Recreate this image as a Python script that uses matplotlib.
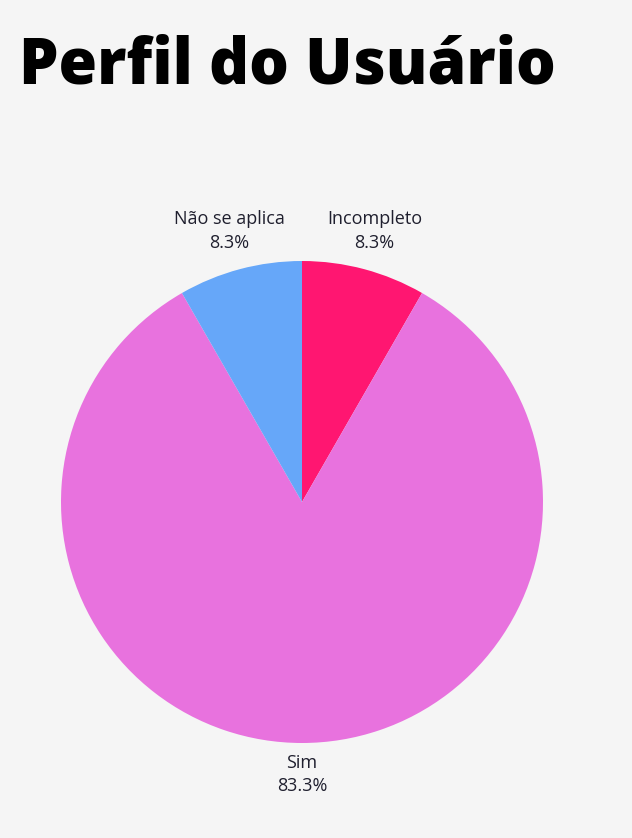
import matplotlib.pyplot as plt
import numpy as np

# chart data
categories = ['Incompleto', 'Sim', 'Não se aplica']
values = [8.3, 83.4, 8.3]
pct_labels = ['8.3%', '83.3%', '8.3%']
colors = ['#FF1671', '#E872DE', '#66A7F9']

fig = plt.figure(figsize=(6.32, 8.38), dpi=100, facecolor='#F5F5F5')

# title
fig.text(19/632, 1 - 83/838, 'Perfil do Usuário', fontsize=45, fontweight=800,
         family=['Open Sans', 'DejaVu Sans'], color='black', ha='left', va='baseline')

# pie axes: centre (302,502), radius 241 px
r = 241
ax = fig.add_axes([(302 - r)/632, 1 - (502 + r)/838, 2*r/632, 2*r/838])
ax.set_facecolor('none')
wedges, _ = ax.pie(values, colors=colors, startangle=90, counterclock=False,
                   radius=1, wedgeprops=dict(linewidth=0))
ax.set_xlim(-1, 1)
ax.set_ylim(-1, 1)
ax.axis('off')

# outside labels, placed on the middle angle of each wedge
dist = [1.165, 1.13, 1.165]
for w, cat, p, d in zip(wedges, categories, pct_labels, dist):
    ang = np.deg2rad((w.theta1 + w.theta2) / 2)
    ax.text(d*np.cos(ang), d*np.sin(ang), cat + '\n' + p, ha='center', va='center',
            fontsize=13, fontweight=350, color='#1f1f2e',
            family=['Open Sans', 'DejaVu Sans'], linespacing=1.4, clip_on=False)

fig.savefig('out.png', dpi=100, facecolor=fig.get_facecolor())
